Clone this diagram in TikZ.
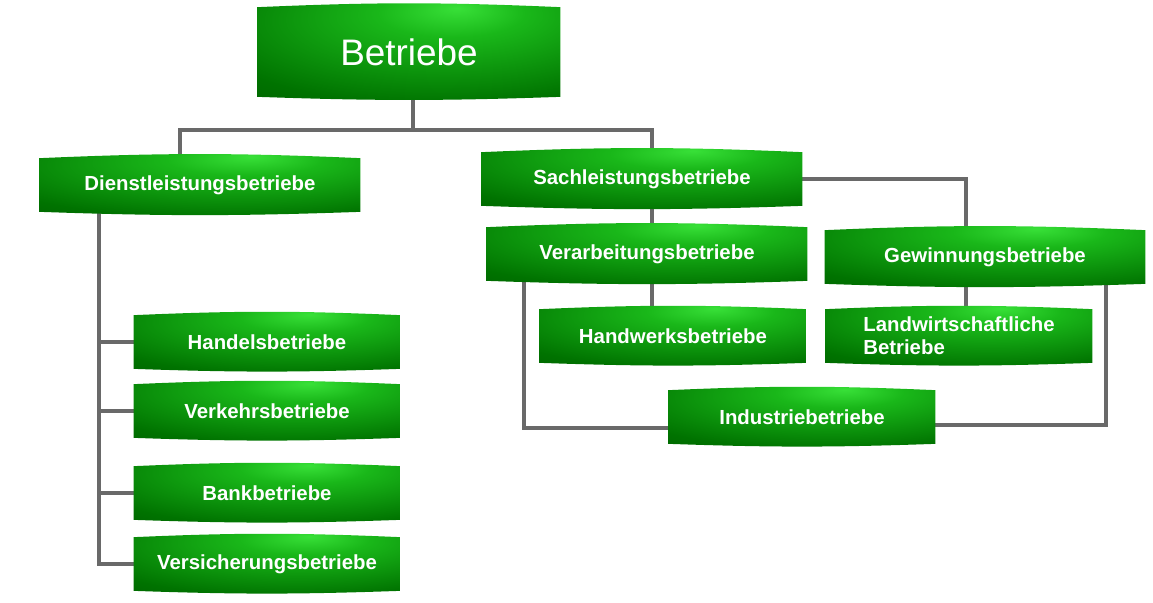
\documentclass[tikz,border=0pt]{standalone}
\usepackage{fontspec}
\setmainfont{Liberation Sans}
\usetikzlibrary{backgrounds,calc}
\definecolor{linegray}{RGB}{105,105,105}
\pgfdeclareradialshading{gban}{\pgfpoint{8bp}{22bp}}{%
  rgb(0bp)=(0.22,0.88,0.22);rgb(12bp)=(0.10,0.72,0.10);
  rgb(40bp)=(0.0,0.45,0.0);rgb(60bp)=(0.0,0.33,0.0);rgb(100bp)=(0.0,0.30,0.0)}
\newcommand\banner[1]{%
  \shade[shading=gban]
    (#1.south west) -- (#1.north west) to[bend left=2.5] (#1.north east)
    -- (#1.south east) to[bend left=2] (#1.south west);}
\begin{document}
\begin{tikzpicture}[x=0.02cm,y=-0.02cm,
  font=\bfseries\fontsize{11.6}{13}\selectfont,
  gbox/.style={rectangle,inner sep=0pt,text=white,
    minimum width=5.32cm,minimum height=1.06cm},
  wbox/.style={gbox,minimum width=6.4cm},
  conn/.style={draw=linegray,line width=2.2pt}]
  \useasboundingbox (0,0) rectangle (1153,602);
  %% nodes
  \node[gbox,minimum width=6.04cm,minimum height=1.78cm,
    font=\fontsize{21}{24}\selectfont](top) at (409,52) {Betriebe};
  \node[wbox](dienst) at (200,185) {Dienstleistungsbetriebe};
  \node[wbox](sach) at (642,179) {Sachleistungsbetriebe};
  \node[wbox](verarb) at (647,254) {Verarbeitungsbetriebe};
  \node[wbox](gewinn) at (985,257) {Gewinnungsbetriebe};
  \node[gbox](handwerk) at (673,336) {Handwerksbetriebe};
  \node[gbox,align=left](landw) at (959,336) {Landwirtschaftliche\\Betriebe};
  \node[gbox](industrie) at (802,417) {Industriebetriebe};
  \node[gbox](handel) at (267,342) {Handelsbetriebe};
  \node[gbox](verkehr) at (267,411) {Verkehrsbetriebe};
  \node[gbox](bank) at (267,493) {Bankbetriebe};
  \node[gbox](versich) at (267,564) {Versicherungsbetriebe};
  %% connectors and boxes
  \begin{scope}[on background layer]
  \coordinate(split) at (413,130);
  \draw[conn] (top.south-|split) -- (split);
  \draw[conn] (dienst.north-|180,0) |- (split) -| (sach.north-|652,0);
  \coordinate(dl) at (99,0);
  \draw[conn] (dienst.south-|dl) -- (dl|-versich.west) -- (versich.west);
  \foreach \n in {handel,verkehr,bank}
    \draw[conn] (dl|-\n.west) -- (\n.west);
  \draw[conn] (sach.south-|652,0) -- (verarb.north-|652,0);
  \draw[conn] (sach.east) -| (gewinn.north-|966,0);
  \draw[conn] (verarb.south-|652,0) -- (handwerk.north-|652,0);
  \draw[conn] (gewinn.south-|966,0) -- (landw.north-|966,0);
  \draw[conn] (verarb.south-|524,0) |- ($(industrie.west)+(0,11)$);
  \draw[conn] (gewinn.south-|1106,0) |- ($(industrie.east)+(0,8)$);
  \foreach \n in {top,dienst,sach,verarb,gewinn,handwerk,landw,industrie,
    handel,verkehr,bank,versich}
    \banner{\n};
  \end{scope}
\end{tikzpicture}
\end{document}
